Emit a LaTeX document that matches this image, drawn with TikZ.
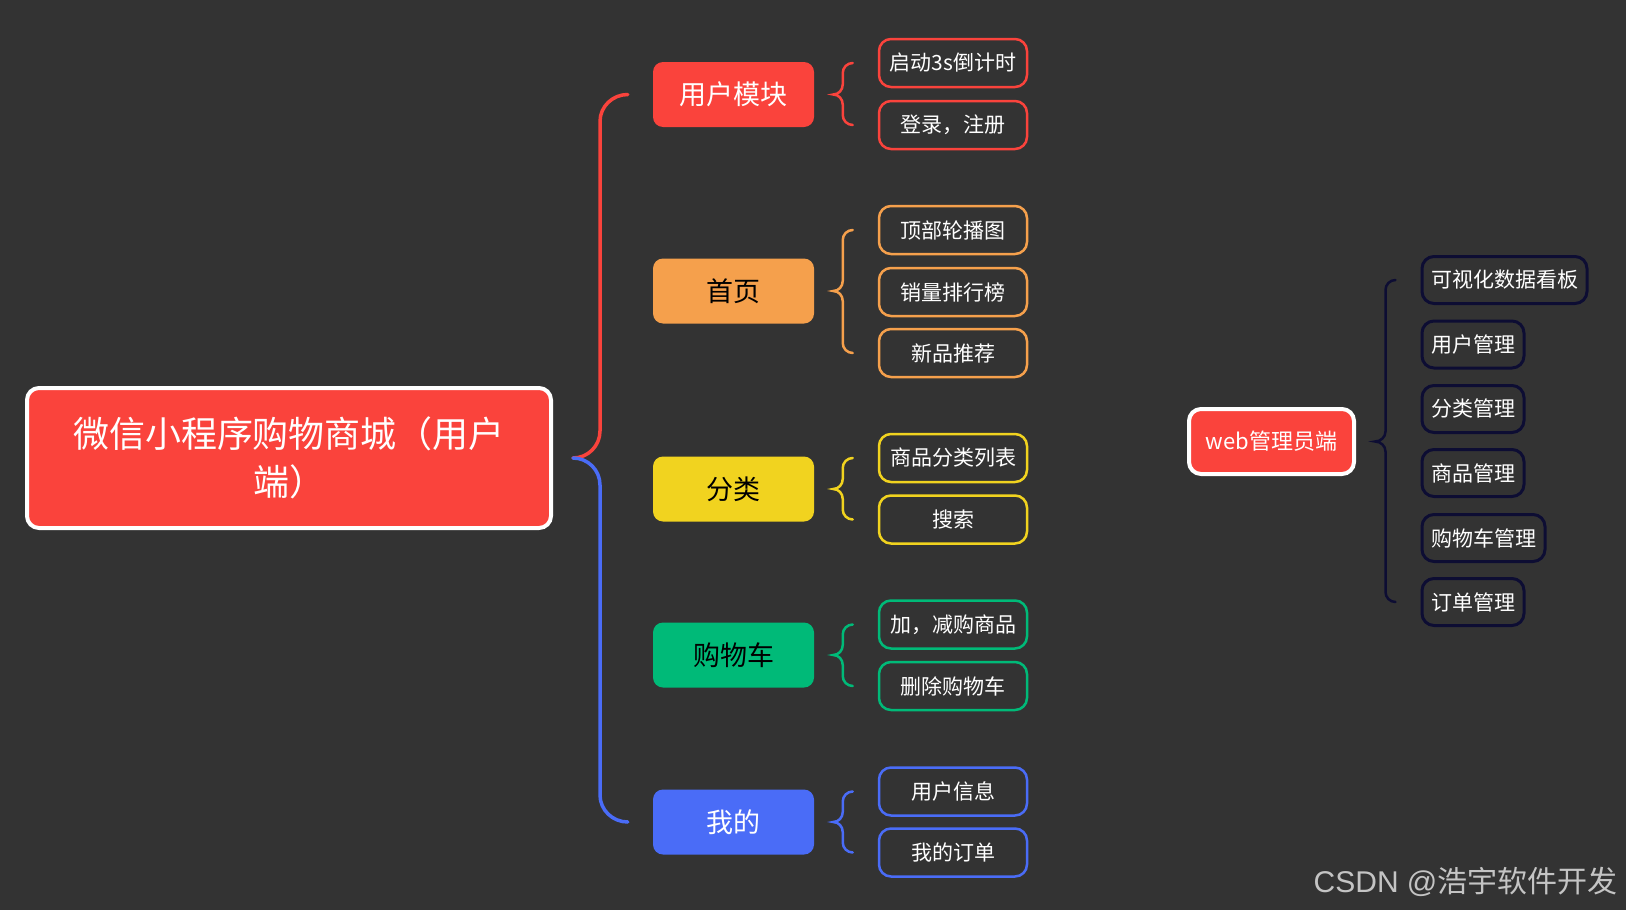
\documentclass[tikz,border=0pt]{standalone}
\usepackage{fontspec}
\setmainfont{Noto Sans CJK SC}
\newfontfamily\markfont{Liberation Sans}
\usepackage{tikz}
\usetikzlibrary{calc}
\definecolor{bgGray}{HTML}{333333}
\definecolor{mindRed}{HTML}{FA433C}
\definecolor{mindOrange}{HTML}{F5A04C}
\definecolor{mindYellow}{HTML}{F1D31F}
\definecolor{mindGreen}{HTML}{00BA78}
\definecolor{mindBlue}{HTML}{4A6CF7}
\definecolor{mindNavy}{HTML}{0D0D33}
\definecolor{markGray}{HTML}{C4C4C4}
\tikzset{
  root box/.style={draw=white, line width=4pt, fill=mindRed, rounded corners=12pt, minimum width=524pt, minimum height=140pt, inner sep=0pt, align=center, text=white, font=\fontsize{36}{48}\selectfont},
  topic box/.style={fill=#1, rounded corners=10pt, minimum width=161pt, minimum height=65pt, inner sep=0pt, font=\fontsize{27}{32}\selectfont},
  item box/.style={draw=#1, line width=2.5pt, rounded corners=12pt, minimum width=148pt, minimum height=48pt, inner sep=0pt, text=white, font=\fontsize{21}{25}\selectfont},
  admin box/.style={draw=white, line width=4pt, fill=mindRed, rounded corners=12pt, minimum width=165pt, minimum height=65pt, inner sep=0pt, text=white, font=\fontsize{22}{26}\selectfont},
  admin item/.style={draw=mindNavy, line width=3pt, rounded corners=12pt, minimum height=47pt, inner xsep=9pt, inner ysep=0pt, anchor=west, text=white, font=\fontsize{21}{25}\selectfont},
  brace line/.style={line width=2.5pt, line cap=round},
  spine line/.style={line width=3.5pt, line cap=round},
}
\newcommand{\drawItemBrace}[4]{
  \draw[brace line, #4] let \p1=(#1.east), \p2=(#2.west), \p3=(#3.west) in
    (\x2-25,\y2) to[out=180,in=90] (\x2-35,\y2-10) -- (\x2-35,\y1+10)
    to[out=-90,in=0] (\x1+19,\y1) to[out=0,in=90] (\x2-35,\y1-10)
    -- (\x2-35,\y3+10) to[out=-90,in=180] (\x2-25,\y3);
}

\begin{document}
\begin{tikzpicture}[x=1pt, y=1pt]
  \useasboundingbox (0,0) rectangle (1626,-910);
  \fill[bgGray] (0,0) rectangle (1626,-910);

  \node[root box] (root) at (289,-458) {微信小程序购物商城（用户\\端）};

  \node[topic box=mindRed, text=white] (user) at (733.5,-94.5) {用户模块};
  \node[topic box=mindOrange, text=black] (home) at (733.5,-291) {首页};
  \node[topic box=mindYellow, text=black] (cate) at (733.5,-489) {分类};
  \node[topic box=mindGreen, text=black] (cart) at (733.5,-655) {购物车};
  \node[topic box=mindBlue, text=white] (mine) at (733.5,-822) {我的};

  \node[item box=mindRed] (user1) at (953,-63) {启动3s倒计时};
  \node[item box=mindRed] (user2) at (953,-125) {登录，注册};
  \node[item box=mindOrange] (home1) at (953,-230) {顶部轮播图};
  \node[item box=mindOrange] (home2) at (953,-292) {销量排行榜};
  \node[item box=mindOrange] (home3) at (953,-353) {新品推荐};
  \node[item box=mindYellow] (cate1) at (953,-458) {商品分类列表};
  \node[item box=mindYellow] (cate2) at (953,-519.5) {搜索};
  \node[item box=mindGreen] (cart1) at (953,-624.5) {加，减购商品};
  \node[item box=mindGreen] (cart2) at (953,-686) {删除购物车};
  \node[item box=mindBlue] (mine1) at (953,-791.5) {用户信息};
  \node[item box=mindBlue] (mine2) at (953,-852.5) {我的订单};

  \draw[spine line, mindRed] let \p1=(root.east), \p2=(user.west) in
    (\x1+20,\y1) to[out=0,in=-90] (\x1+47,\y1+27) -- (\x1+47,\y2-27) to[out=90,in=180] (\x2-25,\y2);
  \draw[spine line, mindBlue] let \p1=(root.east), \p2=(mine.west) in
    (\x1+20,\y1) to[out=0,in=90] (\x1+47,\y1-27) -- (\x1+47,\y2+27) to[out=-90,in=180] (\x2-25,\y2);

  \drawItemBrace{user}{user1}{user2}{mindRed}
  \drawItemBrace{home}{home1}{home3}{mindOrange}
  \drawItemBrace{cate}{cate1}{cate2}{mindYellow}
  \drawItemBrace{cart}{cart1}{cart2}{mindGreen}
  \drawItemBrace{mine}{mine1}{mine2}{mindBlue}

  \node[admin box] (admin) at (1271.5,-441.5) {web管理员端};
  \node[admin item] (admin1) at (1420.5,-280) {可视化数据看板};
  \node[admin item] (admin2) at (1420.5,-344.5) {用户管理};
  \node[admin item] (admin3) at (1420.5,-409) {分类管理};
  \node[admin item] (admin4) at (1420.5,-473) {商品管理};
  \node[admin item] (admin5) at (1420.5,-538) {购物车管理};
  \node[admin item] (admin6) at (1420.5,-602) {订单管理};
  \drawItemBrace{admin}{admin1}{admin6}{mindNavy}

  \node[anchor=east, text=markGray, font=\fontsize{30}{36}\selectfont] (mark) at (1621,-882) {{\markfont CSDN @}浩宇软件开发};
\end{tikzpicture}
\end{document}
